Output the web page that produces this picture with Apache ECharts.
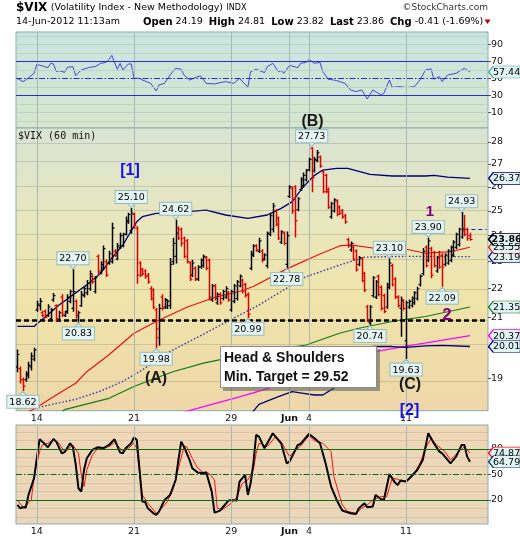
<!DOCTYPE html>
<html>
<head>
<meta charset="utf-8">
<title>$VIX 60 min</title>
<script src="https://cdn.jsdelivr.net/npm/echarts@6.0.0/dist/echarts.min.js"></script>
<style>
html,body{margin:0;padding:0;background:#ffffff;}
#chart{width:520px;height:540px;}
</style>
</head>
<body>
<div id="chart"></div>
<script>
// ---- Hourly OHLC bars: last block of 11-May-2012 through 14-Jun-2012 11:13am ----
const barOpen = [
19.35,19.3,18.95,18.95,19.1,19.35,19.6,21.25,21.4,21.15,
21.2,21.05,20.95,21.6,21.4,20.9,21.7,21.05,21.2,21.55,
21.3,21.55,20.9,21.4,21.75,21.85,22.0,22.45,21.9,23.2,
22.6,22.75,23.0,22.95,23.0,23.4,23.1,23.55,23.6,24.05,
24.55,24.2,24.85,24.3,22.95,22.7,22.65,22.5,22.0,21.95,
21.25,20.3,21.7,21.35,21.35,21.4,23.0,23.2,24.3,24.25,
23.9,23.8,22.95,22.5,22.75,22.35,22.8,22.85,23.15,23.05,
21.6,22.1,21.5,21.8,21.65,21.7,21.85,21.25,21.55,21.65,
22.1,22.3,22.15,21.8,22.75,23.25,23.6,23.4,23.4,23.1,
22.85,24.05,24.25,25.0,24.7,23.75,24.1,22.9,25.6,25.95,
26.0,25.05,25.9,26.05,26.3,26.75,27.7,26.7,27.15,27.3,
26.65,26.5,25.9,24.75,25.0,25.4,25.15,25.0,24.8,23.85,
23.45,23.55,23.4,22.9,23.1,22.55,21.35,20.8,21.75,21.7,
22.45,22.05,21.75,21.35,22.05,22.85,22.35,21.7,21.3,21.55,
20.2,21.35,21.4,21.5,21.65,22.15,22.55,23.55,23.05,23.5,
23.35,22.65,23.35,23.25,22.9,22.95,23.05,23.25,23.55,23.65,
23.95,24.19,24.25,24.0];
const barHigh = [
19.9,19.35,19.0,19.2,19.5,19.8,19.95,21.55,21.65,21.2,
21.25,21.43,21.3,21.83,21.43,21.2,21.78,21.2,21.78,21.95,
22.7,21.6,21.2,21.9,22.07,22.3,22.65,22.5,22.45,23.25,
23.0,23.6,23.07,23.4,24.5,23.45,23.7,24.1,24.1,24.75,
24.9,25.1,24.9,24.35,23.0,22.75,22.7,22.56,22.07,22.0,
21.3,21.45,21.78,21.65,21.6,23.12,23.9,24.62,24.35,24.3,
23.95,23.85,23.0,23.05,22.8,22.85,23.1,23.25,23.2,23.1,
22.15,22.15,21.85,21.85,21.95,22.07,21.9,21.95,22.15,22.3,
22.5,22.35,22.2,21.85,23.4,23.65,23.65,23.9,23.45,23.3,
24.15,24.9,25.3,25.05,24.75,24.2,24.15,24.15,26.05,26.0,
26.05,25.55,26.4,26.6,26.75,27.25,27.73,27.3,27.6,27.35,
26.7,26.55,25.95,25.35,25.5,25.45,25.2,25.05,24.85,23.9,
23.75,23.6,23.45,23.2,23.15,22.6,21.4,21.4,22.45,22.3,
22.5,22.1,21.8,22.2,23.1,22.9,22.4,21.75,21.7,21.6,
21.55,21.6,21.7,21.9,22.05,22.5,23.5,23.6,23.9,23.55,
23.4,23.2,23.4,23.3,23.3,23.45,23.6,23.8,24.1,24.3,
24.93,24.81,24.3,24.1];
const barLow = [
19.2,18.85,18.62,18.9,19.0,19.25,19.55,21.2,21.25,21.02,
20.97,21.02,20.9,21.55,20.85,20.85,21.02,21.02,21.13,21.5,
21.2,20.97,20.83,21.37,21.7,21.78,21.95,22.2,21.85,22.55,
22.55,22.7,22.45,22.9,22.95,23.2,23.07,23.5,23.57,24.03,
24.5,24.1,24.3,22.2,22.45,22.5,22.38,22.2,21.6,21.3,
19.98,20.05,21.25,21.3,21.3,21.3,22.9,22.95,23.85,23.6,
23.15,22.95,22.3,22.45,22.3,22.3,22.75,22.8,22.7,21.6,
21.55,21.6,21.45,21.45,21.6,21.65,21.55,21.2,21.5,21.6,
22.07,21.85,21.7,20.99,22.7,23.2,23.4,23.35,23.0,23.07,
22.77,24.0,24.15,24.4,23.85,23.7,23.65,22.78,25.55,24.9,
23.95,25.0,25.85,26.0,26.25,26.7,25.8,26.65,27.1,26.85,
25.75,25.75,25.1,24.7,24.95,24.8,24.85,24.7,24.5,23.55,
23.4,23.05,22.65,22.85,22.25,21.9,20.85,20.74,21.7,21.65,
21.75,21.25,21.15,21.3,22.0,22.1,21.65,21.35,20.35,21.25,
19.63,21.3,21.35,21.45,21.6,22.1,22.5,22.8,23.0,22.4,
22.8,22.6,22.75,22.09,22.85,22.9,23.0,23.2,23.5,23.6,
23.9,24.0,23.82,23.82];
const barClose = [
19.75,18.95,18.75,19.15,19.4,19.7,19.9,21.45,21.55,21.05,
21.0,21.35,21.25,21.75,20.95,21.15,21.1,21.15,21.7,21.9,
21.9,21.05,21.15,21.8,22.0,22.2,22.55,22.25,22.4,22.65,
22.9,23.5,22.5,23.3,24.3,23.25,23.6,24.0,24.05,24.6,
24.85,24.9,24.4,22.5,22.5,22.55,22.45,22.25,21.65,21.35,
20.6,21.3,21.3,21.6,21.55,22.9,23.7,24.1,23.9,23.7,
23.2,23.0,22.35,22.95,22.35,22.8,23.05,23.2,22.75,21.7,
22.1,21.65,21.8,21.5,21.9,22.0,21.6,21.9,22.1,22.25,
22.45,21.9,21.75,21.1,23.3,23.6,23.45,23.8,23.05,23.25,
24.1,24.8,25.2,24.45,23.9,24.15,23.7,24.0,26.0,25.0,
24.6,25.5,26.3,26.5,26.7,27.2,26.4,27.2,27.5,26.9,
25.8,25.8,25.15,25.3,25.45,24.85,24.9,24.75,24.55,23.6,
23.7,23.1,22.7,23.15,22.3,21.95,20.9,21.35,22.4,22.25,
21.8,21.3,21.2,22.15,22.95,22.15,21.7,21.4,21.6,21.3,
21.5,21.55,21.65,21.85,22.0,22.45,23.4,22.85,23.8,22.5,
22.85,23.15,22.8,22.8,23.25,23.4,23.55,23.75,24.05,24.25,
24.27,24.05,23.9,23.86];

// bars that carry a value callout
const calloutHighIdx = [20, 41, 57, 106, 134, 148, 160];
const calloutLowIdx = [2, 22, 50, 83, 97, 127, 140, 153];

// overlay lines, [bar index, value]
const bandUpper = [[0,20.68],[6,20.68],[8,20.85],[11,21.08],[15,21.42],[20,21.78],[25,22.14],[30,22.57],[34,23.13],[38,23.64],[43,24.56],[45,24.76],[50,24.9],[55,24.9],[57,25.03],[61,24.97],[68,25.03],[75,24.83],[83,24.69],[90,24.83],[95,25.1],[99,25.38],[103,26.01],[107,26.5],[110,26.73],[115,26.8],[119,26.8],[123,26.67],[127,26.54],[135,26.47],[147,26.47],[150,26.5],[155,26.42],[163,26.37]];
const bandLower = [[84,17.9],[87,18.2],[94,18.43],[99,18.58],[103,18.53],[107,18.48],[110,18.48],[114,18.69],[121,19.35],[128,20.01],[135,20.01],[140,19.98],[147,20.03],[153,20.05],[163,20.01]];
const maRed = [[4,17.98],[6,18.06],[15,18.53],[21,18.84],[25,19.2],[33,19.74],[42,20.45],[50,20.85],[61,21.34],[72,21.72],[80,21.9],[85,22.08],[97,22.73],[109,23.29],[116,23.6],[120,23.64],[128,23.52],[138,23.52],[147,23.32],[156,23.38],[163,23.55]];
const maDotted = [[0,18.09],[7,18.1],[21,18.35],[30,18.6],[38,18.9],[44,19.2],[50,19.55],[55,19.85],[66,20.37],[78,20.97],[87,21.42],[95,21.9],[103,22.4],[116,22.87],[125,23.17],[140,23.2],[163,23.19]];
const maGreen = [[16,17.98],[17,18.04],[33,18.38],[42,18.74],[48,18.94],[56,19.2],[67,19.47],[85,19.8],[104,20.06],[116,20.45],[123,20.62],[135,20.85],[147,21.02],[163,21.35]];
const maMagenta = [[60,17.97],[70,18.2],[80,18.42],[88,18.62],[100,18.95],[115,19.4],[129,19.84],[140,20.02],[150,20.17],[163,20.37]];

const neckline = 20.85;
const prevClose = 24.27;

// RSI(14)
const rsiPts = [[0,50],[2,46.1],[3,48],[6,55.9],[7,66.5],[9,64.5],[11,62.5],[12,67.6],[13,66.9],[14,57.8],[15,59],[17,57],[18,62.9],[20,63.7],[21,53.1],[23,59.8],[26,62.9],[28,63.7],[30,67.6],[32,68.8],[33,72.3],[34,77],[36,60.6],[37,67.6],[38,59.8],[40,66.9],[41,66.9],[42,50],[44,50],[45,48],[48,44.1],[50,35.1],[51,42.2],[53,44.1],[55,53.9],[57,61.8],[59,60.6],[60,53.9],[62,48],[65,52],[66,52.7],[68,44.1],[71,43.3],[73,44.9],[75,46.1],[78,44.1],[80,50],[83,39.4],[84,57.8],[86,60.6],[89,56.7],[90,63.7],[92,67.6],[94,57.8],[95,59],[96,55.9],[98,65.3],[101,62.5],[102,67.6],[104,68.8],[105,72.3],[107,67.6],[109,68.8],[110,57.8],[112,48.8],[114,48],[115,47.3],[118,44.1],[120,36.3],[122,34.3],[124,36.3],[126,25.7],[128,36.3],[131,30.4],[132,32.4],[134,48],[135,39.4],[138,40.2],[140,39],[143,40.2],[145,48],[147,59.8],[149,61.1],[150,48.8],[152,52],[153,46.1],[155,53.9],[158,55.9],[161,61.8],[163,57.44]];

// Slow stochastic %K and %D
const stochK = [[0,13.9],[1,10],[2,11.2],[3,10.8],[4,25.7],[6,45.3],[7,68.8],[8,91.2],[9,88.4],[11,81.8],[13,91.6],[14,88.4],[16,74.7],[17,76],[19,86.5],[20,81.8],[21,62],[22,33.5],[23,29.6],[24,55.1],[25,68.8],[27,78.6],[29,81.8],[31,80.6],[33,84.5],[35,91.2],[36,83.3],[37,75.5],[38,74.7],[39,80.6],[41,86.5],[42,93.5],[43,90.4],[44,55.1],[45,17.9],[46,17.5],[47,10],[49,4.1],[50,2.2],[51,6.1],[53,19.8],[55,25.7],[57,43.3],[58,66.9],[59,88.4],[60,82.5],[62,66.9],[63,57.1],[65,52],[67,51.2],[68,52.4],[70,29.6],[71,4.9],[73,7.3],[74,11.2],[76,19],[77,19.8],[79,19],[80,41.4],[82,49.2],[83,25.7],[84,39.4],[85,62.9],[86,96.3],[87,94.3],[89,80.6],[92,98.2],[95,86.5],[97,62.9],[98,64.9],[101,84.5],[102,85.7],[105,97.4],[107,92.4],[109,86.5],[111,62.9],[113,35.5],[115,19.8],[117,7.3],[120,4.1],[122,3.4],[123,10],[125,15.9],[126,11.2],[128,12],[129,25.7],[131,20.6],[132,19.8],[134,50.4],[136,40.2],[137,37.5],[138,42.6],[140,41.4],[142,48],[144,55.1],[146,66.9],[147,82.5],[148,98.2],[150,86.5],[152,76.7],[153,74.7],[156,62.9],[158,70.8],[160,84.5],[161,84.5],[162,70.8],[163,64.79]];
const stochD = [[0,19.8],[2,11.2],[3,12.8],[5,19.8],[6,47.3],[8,76.7],[9,84.5],[11,86.5],[13,90.4],[15,86.5],[17,76.7],[18,78.6],[20,84.5],[22,74.7],[23,49.2],[24,35.5],[25,55.1],[27,72.7],[29,80.6],[31,81.8],[33,82.5],[35,87.2],[37,80.6],[38,76.7],[40,80.6],[42,86.5],[43,80.6],[44,53.1],[45,25.7],[47,15.9],[50,4.1],[51,6.1],[54,17.9],[56,31.6],[58,57.1],[60,82.5],[61,82.5],[63,68.8],[65,57.1],[67,52],[69,51.2],[71,43.3],[72,10],[74,8.8],[77,15.9],[79,23],[81,39.4],[83,43.3],[85,55.1],[86,74.7],[87,86.5],[90,82.5],[93,94.3],[95,88.4],[98,70.8],[99,74.7],[102,83.3],[105,95.1],[107,89.6],[110,86.5],[113,76.7],[114,47.3],[117,13.9],[119,6.1],[122,4.1],[124,10],[126,13.9],[128,19.8],[131,23.7],[133,23.7],[135,45.3],[137,44.1],[139,41.4],[141,43.3],[143,51.2],[145,62.9],[147,80.6],[149,92.4],[151,84.5],[154,76.7],[156,66.9],[159,76.7],[161,82.5],[163,74.87]];

// axis ticks
const dayTickIdx = [7, 42, 77, 98, 105, 140];
const dayTickText = ['14', '21', '29', 'Jun', '4', '11'];
const priceTicks = [19, 20, 21, 22, 23, 24, 25, 26, 27, 28];
const rsiTicks = [10, 30, 50, 70, 90];
const stochTicks = [20, 50, 80];

// ---- chart construction ----
const SLOT_COUNT = 170;            // bar slots incl. empty space at the right edge
const LAST = SLOT_COUNT - 1;
const slots = Array.from({length: SLOT_COUNT}, (_, i) => String(i));
const lg = Math.log;
const FONT = 'DejaVu Sans';
const last = arr => arr[arr.length - 1][1];
const logPts = pts => pts.map(p => [p[0], lg(p[1])]);

const ohlc = barOpen.map((o, i) => [i, lg(o), lg(barHigh[i]), lg(barLow[i]), lg(barClose[i])]);

function renderOHLC(params, api) {
  const i = api.value(0);
  const o = api.coord([i, api.value(1)]);
  const h = api.coord([i, api.value(2)]);
  const l = api.coord([i, api.value(3)]);
  const c = api.coord([i, api.value(4)]);
  const col = api.value(4) >= api.value(1) ? '#000000' : '#e00000';
  const x = Math.round(h[0]) + 0.5;
  return {
    type: 'group',
    children: [
      {type: 'line', shape: {x1: x, y1: h[1] - 0.5, x2: x, y2: l[1] + 0.5}, style: {stroke: col, lineWidth: 1.5}},
      {type: 'line', shape: {x1: x - 2, y1: o[1], x2: x, y2: o[1]}, style: {stroke: col, lineWidth: 1.2}},
      {type: 'line', shape: {x1: x, y1: c[1], x2: x + 2, y2: c[1]}, style: {stroke: col, lineWidth: 1.2}}
    ]
  };
}

const FLAG_PATH = 'path://M0,6L6,0L40,0L40,12L6,12Z';
function flag(yv, text, border, bold) {
  return {
    coord: [LAST, yv], value: text,
    symbol: FLAG_PATH, symbolSize: [32, 12], symbolKeepAspect: false, symbolOffset: [18, 0],
    itemStyle: {color: '#e0f4f4', borderColor: border, borderWidth: bold ? 1.3 : 1},
    label: {show: true, position: 'inside', offset: [2, 0.5], color: '#000', fontSize: 9.5,
            fontFamily: FONT, fontWeight: bold ? 'bold' : 'normal', formatter: text}
  };
}
function flagMarks(list) {
  return {silent: true, animation: false, data: list};
}

const CALL_FILL = '#e4f5f3', CALL_BORDER = '#98bcbc';
const calloutLabel = {
  show: true, color: '#000', fontSize: 9.5, fontFamily: FONT,
  backgroundColor: CALL_FILL, borderColor: CALL_BORDER, borderWidth: 1,
  padding: [1, 2, 0, 2], lineHeight: 11, distance: 0, formatter: '{c}'
};
const callouts = [
  ...calloutHighIdx.map(i => ({
    coord: [i, lg(barHigh[i])], value: barHigh[i].toFixed(2),
    symbol: 'path://M0,0L8,0L4,5Z', symbolSize: [7, 4], symbolOffset: [0, -3],
    itemStyle: {color: CALL_FILL, borderColor: CALL_BORDER, borderWidth: 1},
    label: Object.assign({}, calloutLabel, {position: 'top'})
  })),
  ...calloutLowIdx.map(i => ({
    coord: [i, lg(barLow[i])], value: barLow[i].toFixed(2),
    symbol: 'path://M4,0L8,5L0,5Z', symbolSize: [7, 4], symbolOffset: [0, 3],
    itemStyle: {color: CALL_FILL, borderColor: CALL_BORDER, borderWidth: 1},
    label: Object.assign({}, calloutLabel, {position: 'bottom'})
  }))
];

const VGRID = '#a9b8b2';
const DASHDOT = [6, 2, 1.5, 2];
function gridLines(gi, faintVals, faintColor, extra, anchorY) {
  const data = [
    ...faintVals.map(v => ({yAxis: v, lineStyle: {color: faintColor, width: 1, type: 'solid'}})),
    ...dayTickIdx.map(i => ({xAxis: String(i), lineStyle: {color: VGRID, width: 1, type: 'solid'}})),
    ...extra
  ];
  return {
    type: 'line', xAxisIndex: gi, yAxisIndex: gi, data: [[0, anchorY]], symbol: 'none',
    lineStyle: {opacity: 0}, silent: true, z: 1,
    markLine: {silent: true, symbol: ['none', 'none'], animation: false, label: {show: false},
               emphasis: {disabled: true}, data}
  };
}
const range = (a, b, s) => { const r = []; for (let v = a; v <= b; v += s) r.push(v); return r; };

const rsiFaint = range(0, 100, 10).filter(v => ![30, 50, 70].includes(v));
const stochFaint = range(0, 100, 10).filter(v => ![20, 50, 80].includes(v));

const RSI_NAVY = '#2a2ad0', STO_GREEN = '#0b6a0b';

function xAxisFor(gi, showLabels) {
  return {
    type: 'category', gridIndex: gi, data: slots, boundaryGap: true,
    axisLine: {show: false}, splitLine: {show: false},
    axisTick: {show: false},
    axisLabel: showLabels ? {
      show: true, interval: (i) => dayTickIdx.includes(i), margin: 3,
      fontSize: 9.5, fontFamily: FONT, color: '#111',
      formatter: (v, i) => {
        const k = dayTickIdx.indexOf(Number(v));
        if (k < 0) return '';
        return dayTickText[k] === 'Jun' ? '{m|Jun}' : dayTickText[k];
      },
      rich: {m: {fontWeight: 'bold', fontSize: 9.5, fontFamily: FONT, color: '#111'}}
    } : {show: false}
  };
}
function yAxisFor(gi, min, max, ticks, fmt) {
  return {
    type: 'value', gridIndex: gi, position: 'right', min, max,
    splitLine: {show: false}, axisLine: {show: false},
    axisTick: {show: true, length: 3, customValues: ticks, lineStyle: {color: '#555'}},
    axisLabel: {show: true, customValues: ticks, margin: 3, fontSize: 9.5, fontFamily: FONT,
                color: '#111', formatter: fmt}
  };
}

const gradRSI = new echarts.graphic.LinearGradient(0, 0, 0, 1, [
  {offset: 0, color: '#c8e5e0'}, {offset: 1, color: '#d6e7cc'}]);
const gradMain = new echarts.graphic.LinearGradient(0, 0, 0, 1, [
  {offset: 0, color: '#d9e4d4'}, {offset: 0.35, color: '#e9e7bd'},
  {offset: 0.6, color: '#f0e4aa'}, {offset: 1, color: '#eed7a9'}]);
const gradStoch = new echarts.graphic.LinearGradient(0, 0, 0, 1, [
  {offset: 0, color: '#eed8b7'}, {offset: 1, color: '#ead6bb'}]);

const gridBase = {left: 16, width: 472, show: true, borderColor: '#8fa9a9', borderWidth: 1};

const priceMin = lg(18.01), priceMax = lg(28.64);

const option = {
  animation: false,
  grid: [
    Object.assign({}, gridBase, {top: 32, height: 96, backgroundColor: gradRSI}),
    Object.assign({}, gridBase, {top: 128, height: 282.7, backgroundColor: gradMain}),
    Object.assign({}, gridBase, {top: 425, height: 99, backgroundColor: gradStoch})
  ],
  xAxis: [xAxisFor(0, false), xAxisFor(1, true), xAxisFor(2, true)],
  yAxis: [
    yAxisFor(0, -8.5, 104.5, rsiTicks),
    yAxisFor(1, priceMin, priceMax, priceTicks.map(lg), v => String(Math.round(Math.exp(v)))),
    yAxisFor(2, -8.5, 108, stochTicks)
  ],
  series: [
    // RSI panel
    gridLines(0, rsiFaint, '#bcd4cb', [
      {yAxis: 70, lineStyle: {color: RSI_NAVY, width: 1.2, type: 'solid'}},
      {yAxis: 30, lineStyle: {color: RSI_NAVY, width: 1.2, type: 'solid'}},
      {yAxis: 50, lineStyle: {color: RSI_NAVY, width: 1.2, type: DASHDOT}}
    ], 50),
    {type: 'line', xAxisIndex: 0, yAxisIndex: 0, data: rsiPts, symbol: 'none', z: 3,
     lineStyle: {color: '#4444dd', width: 1},
     markPoint: flagMarks([flag(last(rsiPts), last(rsiPts).toFixed(2), '#4aa3a3')])},

    // price panel
    gridLines(1, priceTicks.map(lg), 'rgba(120,125,95,0.28)', [], lg(22)),
    {type: 'line', xAxisIndex: 1, yAxisIndex: 1, data: logPts(maMagenta), symbol: 'none', z: 2,
     lineStyle: {color: '#ff00ff', width: 1.3},
     markPoint: flagMarks([flag(lg(last(maMagenta)), last(maMagenta).toFixed(2), '#ff00ff')])},
    {type: 'line', xAxisIndex: 1, yAxisIndex: 1, data: logPts(bandLower), symbol: 'none', z: 2,
     lineStyle: {color: '#00007a', width: 1.3},
     markPoint: flagMarks([flag(lg(last(bandLower)), last(bandLower).toFixed(2), '#00007a')])},
    {type: 'line', xAxisIndex: 1, yAxisIndex: 1, data: logPts(maGreen), symbol: 'none', z: 2,
     lineStyle: {color: '#157a15', width: 1.2},
     markPoint: flagMarks([flag(lg(last(maGreen)), last(maGreen).toFixed(2), '#157a15')])},
    {type: 'line', xAxisIndex: 1, yAxisIndex: 1, data: logPts(maDotted), symbol: 'none', z: 2,
     lineStyle: {color: '#3333aa', width: 1.4, type: [1.5, 2]},
     markPoint: flagMarks([flag(lg(last(maDotted)), last(maDotted).toFixed(2), '#1a1a99')])},
    {type: 'line', xAxisIndex: 1, yAxisIndex: 1, data: logPts(maRed), symbol: 'none', z: 2,
     lineStyle: {color: '#f01010', width: 1.2},
     markPoint: flagMarks([flag(lg(last(maRed)), last(maRed).toFixed(2), '#f01010')])},
    {type: 'line', xAxisIndex: 1, yAxisIndex: 1, data: logPts(bandUpper), symbol: 'none', z: 2,
     lineStyle: {color: '#00007a', width: 1.3},
     markPoint: flagMarks([flag(lg(last(bandUpper)), last(bandUpper).toFixed(2), '#00007a')])},
    {type: 'line', xAxisIndex: 1, yAxisIndex: 1, data: [[0, lg(22)]], symbol: 'none', z: 4,
     lineStyle: {opacity: 0}, silent: true,
     markLine: {silent: true, symbol: ['none', 'none'], animation: false, label: {show: false},
       data: [
         {yAxis: lg(neckline), lineStyle: {color: '#000', width: 2.6, type: [5, 3]}},
         [{xAxis: '161', yAxis: lg(prevClose), lineStyle: {color: '#1010ff', width: 1.2, type: [4, 3]}},
          {xAxis: String(LAST), yAxis: lg(prevClose)}]
       ]}},
    {type: 'custom', xAxisIndex: 1, yAxisIndex: 1, data: ohlc, z: 5, clip: true,
     encode: {x: 0, y: [1, 2, 3, 4]}, renderItem: renderOHLC,
     markPoint: {silent: true, animation: false,
       data: [...callouts, flag(lg(barClose[barClose.length - 1]), barClose[barClose.length - 1].toFixed(2), '#000', true)]}},

    // stochastic panel
    gridLines(2, stochFaint, 'rgba(150,110,60,0.18)', [
      {yAxis: 80, lineStyle: {color: STO_GREEN, width: 1.2, type: 'solid'}},
      {yAxis: 20, lineStyle: {color: STO_GREEN, width: 1.2, type: 'solid'}},
      {yAxis: 50, lineStyle: {color: STO_GREEN, width: 1.2, type: DASHDOT}}
    ], 50),
    {type: 'line', xAxisIndex: 2, yAxisIndex: 2, data: stochD, symbol: 'none', z: 3,
     lineStyle: {color: '#ff1010', width: 1},
     markPoint: flagMarks([flag(last(stochD), last(stochD).toFixed(2), '#ff1010')])},
    {type: 'line', xAxisIndex: 2, yAxisIndex: 2, data: stochK, symbol: 'none', z: 4,
     lineStyle: {color: '#000', width: 2},
     markPoint: flagMarks([flag(last(stochK), last(stochK).toFixed(2), '#003366')])}
  ],
  graphic: [
    {type: 'text', x: 16, y: 8, z: 50, style: {
      text: '{a|$VIX} {b|(Volatility Index - New Methodology)} {c|INDX}', verticalAlign: 'middle',
      rich: {
        a: {fontFamily: FONT, fontWeight: 'bold', fontSize: 12, fill: '#000'},
        b: {fontFamily: FONT, fontSize: 9.5, fill: '#000'},
        c: {fontFamily: FONT, fontSize: 8, fill: '#000'}
      }}},
    {type: 'text', x: 488, y: 8, z: 50, style: {text: '\u00a9StockCharts.com', align: 'right',
      verticalAlign: 'middle', fontFamily: FONT, fontSize: 9, fill: '#333'}},
    {type: 'text', x: 16, y: 22, z: 50, style: {text: '14-Jun-2012 11:13am', verticalAlign: 'middle',
      fontFamily: FONT, fontSize: 9.5, fill: '#000'}},
    {type: 'text', x: 143, y: 22, z: 50, style: {
      text: '{b|Open} 24.19  {b|High} 24.81  {b|Low} 23.82  {b|Last} 23.86  {b|Chg} -0.41 (-1.69%)',
      verticalAlign: 'middle', fontFamily: FONT, fontSize: 9.5, fill: '#000',
      rich: {b: {fontFamily: FONT, fontWeight: 'bold', fontSize: 10, fill: '#000'}}}},
    {type: 'polygon', z: 50, shape: {points: [[484.5, 19.5], [490.5, 19.5], [487.5, 24]]},
      style: {fill: '#c00000'}},
    {type: 'text', x: 18, y: 136, z: 50, style: {text: '$VIX (60 min)', verticalAlign: 'middle',
      fontFamily: 'DejaVu Sans Mono', fontSize: 10, fill: '#111'}},

    // wave annotations
    {type: 'text', x: 130, y: 171, z: 60, style: {text: '[1]', align: 'center', verticalAlign: 'middle',
      fontFamily: 'Liberation Sans', fontWeight: 'bold', fontSize: 16, fill: '#1010e8'}},
    {type: 'text', x: 312.5, y: 121.5, z: 60, style: {text: '(B)', align: 'center', verticalAlign: 'middle',
      fontFamily: 'Liberation Sans', fontWeight: 'bold', fontSize: 16, fill: '#1a1a1a'}},
    {type: 'text', x: 430, y: 212, z: 60, style: {text: '1', align: 'center', verticalAlign: 'middle',
      fontFamily: 'Liberation Sans', fontWeight: 'bold', fontSize: 15, fill: '#800080'}},
    {type: 'text', x: 447, y: 315, z: 60, style: {text: '2', align: 'center', verticalAlign: 'middle',
      fontFamily: 'Liberation Sans', fontWeight: 'bold', fontSize: 17, fill: '#800080'}},
    {type: 'text', x: 156, y: 379, z: 60, style: {text: '(A)', align: 'center', verticalAlign: 'middle',
      fontFamily: 'Liberation Sans', fontWeight: 'bold', fontSize: 16, fill: '#1a1a1a'}},
    {type: 'text', x: 410, y: 384.5, z: 60, style: {text: '(C)', align: 'center', verticalAlign: 'middle',
      fontFamily: 'Liberation Sans', fontWeight: 'bold', fontSize: 16, fill: '#1a1a1a'}},
    {type: 'text', x: 409.5, y: 411, z: 60, style: {text: '[2]', align: 'center', verticalAlign: 'middle',
      fontFamily: 'Liberation Sans', fontWeight: 'bold', fontSize: 16, fill: '#1010e8'}},

    // pattern note
    {type: 'rect', z: 60, shape: {x: 223, y: 349, width: 157, height: 42}, style: {fill: 'rgba(90,90,90,0.55)'}},
    {type: 'rect', z: 61, shape: {x: 220.5, y: 346.5, width: 156, height: 41}, style: {fill: '#ffffff', stroke: '#8a8a8a', lineWidth: 1}},
    {type: 'text', x: 224, y: 358.5, z: 62, style: {text: 'Head & Shoulders', verticalAlign: 'middle',
      fontFamily: 'Liberation Sans', fontWeight: 'bold', fontSize: 14, fill: '#111'}},
    {type: 'text', x: 224, y: 377, z: 62, style: {text: 'Min. Target = 29.52', verticalAlign: 'middle',
      fontFamily: 'Liberation Sans', fontWeight: 'bold', fontSize: 14, fill: '#111'}}
  ]
};

const chart = echarts.init(document.getElementById('chart'), null, {renderer: 'canvas'});
chart.setOption(option);
</script>
</body>
</html>
